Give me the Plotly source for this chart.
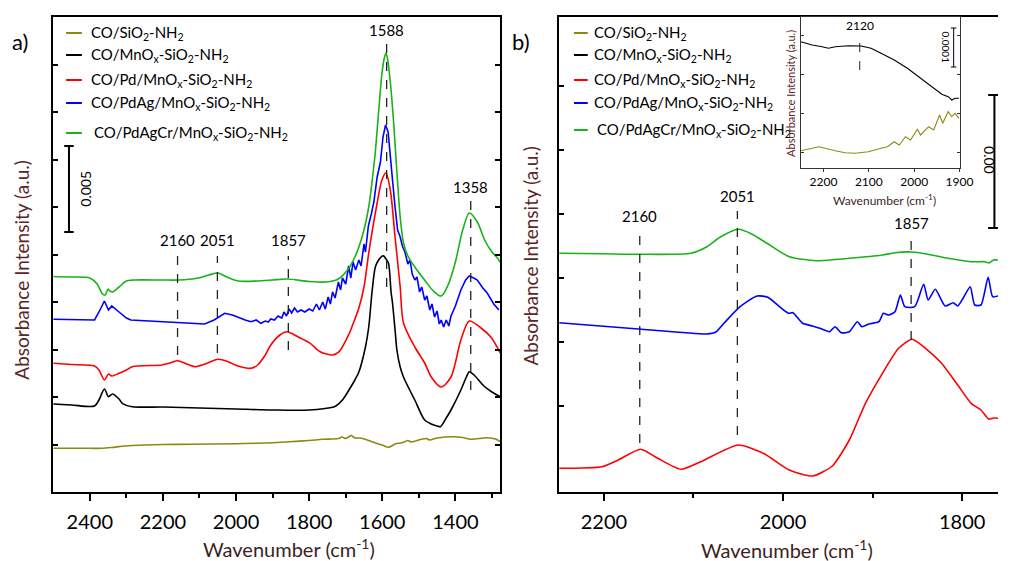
import plotly.graph_objects as go

W, H = 1012, 561
FONT = "Lato"

# ---------------- Panel a data (wavenumber, absorbance in a.u., stacked offsets) ----------------
a_olive_x = [2500, 2450, 2400, 2367, 2340, 2304, 2250, 2200, 2124, 2000, 1943, 1900, 1853, 1800, 1763,
             1720, 1710, 1700, 1691, 1685, 1675, 1660, 1628, 1600, 1583, 1565, 1550, 1540, 1530, 1520,
             1493, 1480, 1470, 1450, 1403, 1380, 1358, 1313, 1290, 1277]
a_olive_y = [43.7, 43.7, 43.7, 43.7, 44.5, 46, 47, 47.5, 47.7, 48.3, 48.7, 49.3, 50.3, 51.5, 52.7,
             53.5, 55, 53.5, 55.3, 56.5, 54, 54, 50.3, 47, 44.7, 48, 49, 50, 51.5, 50,
             52.7, 53.5, 52, 54, 55.3, 54.5, 52.7, 54.3, 53, 50.3]

a_black_x = [2500, 2450, 2387, 2375, 2360, 2349, 2338, 2320, 2311, 2284, 2200, 2100, 2000, 1900, 1800,
             1736, 1727, 1709, 1691, 1675, 1664, 1646, 1637, 1628, 1619, 1610, 1600, 1596, 1590, 1583,
             1576, 1572, 1565, 1560, 1551, 1542, 1525, 1511, 1484, 1466, 1450, 1441, 1425, 1412, 1385,
             1370, 1362, 1349, 1322, 1300, 1277]
a_black_y = [88, 87, 86, 92, 103, 95.3, 98, 93, 88.7, 85.3, 85, 84, 83, 82, 82,
             84.7, 86, 92, 102, 112, 120, 145, 165, 200, 225, 232, 236, 236, 233, 228.7,
             200, 189, 162, 142, 125, 115, 102, 92, 72, 68, 66, 65.3, 74, 82, 102,
             115, 120.3, 117, 106, 100, 95.3]

a_red_x = [2500, 2450, 2387, 2375, 2360, 2349, 2340, 2320, 2300, 2284, 2203, 2180, 2159, 2135, 2113,
           2085, 2049, 2020, 1995, 1959, 1941, 1920, 1905, 1880, 1860, 1830, 1797, 1770, 1736, 1718,
           1691, 1680, 1664, 1650, 1637, 1614, 1601, 1590, 1578, 1565, 1551, 1542, 1511, 1484, 1466,
           1439, 1412, 1385, 1362, 1330, 1303, 1277]
a_red_y = [128.7, 127.5, 126, 122, 112, 118, 116, 118.7, 122, 125.3, 127, 129, 131.3, 128, 125.3,
           128, 132.7, 130, 126, 123.7, 127, 137, 147, 157, 160.3, 155, 148.7, 140.3, 137, 140.3,
           158, 168, 184, 205, 239, 289, 312, 319.3, 302, 255, 205, 169, 145, 129, 115,
           105, 115, 152, 171, 164, 155, 139]

a_blue_x = [2500, 2450, 2400, 2387, 2375, 2360, 2349, 2340, 2320, 2300, 2288, 2200, 2158, 2086, 2060,
            2031, 2010, 1995, 1975, 1959, 1945, 1932, 1920, 1912, 1905, 1895, 1885, 1875, 1869, 1862,
            1855, 1848, 1840, 1832, 1822, 1812, 1800, 1790, 1780, 1772, 1763, 1756, 1748, 1742, 1736,
            1729, 1720, 1714, 1709, 1700, 1692, 1686, 1680, 1673, 1664, 1658, 1650, 1646, 1638, 1630,
            1623, 1614, 1605, 1598, 1591, 1584, 1578, 1574, 1565, 1558, 1551, 1545, 1538, 1530, 1524,
            1518, 1511, 1505, 1498, 1492, 1484, 1478, 1470, 1464, 1457, 1450, 1444, 1439, 1432, 1425,
            1418, 1412, 1400, 1385, 1372, 1362, 1350, 1340, 1325, 1313, 1295, 1281]
a_blue_y = [172.7, 172.5, 172, 172, 180, 191, 182, 186, 180, 174, 172, 170, 169.3, 168, 172,
            178.7, 177, 174.7, 172, 170.3, 172, 168.7, 171, 170, 173, 172, 176, 174, 180, 176,
            183, 179, 184, 180, 182, 180, 183, 181, 188, 182, 190, 183, 195, 188, 200,
            194, 210, 202, 214, 208, 226, 214, 230, 222, 232, 226, 248, 240, 266, 278,
            290, 315, 330, 355, 367, 360, 340, 320, 285, 262, 255, 246, 240, 228, 232,
            218, 212, 215, 200, 205, 192, 196, 182, 188, 175, 181, 168, 172, 165, 172,
            166, 176, 186, 202, 212, 216, 214, 212, 204, 199, 188, 182]

a_green_x = [2500, 2450, 2400, 2380, 2365, 2358, 2350, 2345, 2338, 2320, 2300, 2280, 2200, 2158, 2104,
             2075, 2049, 2025, 1995, 1941, 1900, 1860, 1800, 1754, 1720, 1691, 1675, 1664, 1650, 1637,
             1628, 1619, 1610, 1601, 1595, 1590, 1585, 1578, 1569, 1560, 1551, 1542, 1530, 1511, 1480,
             1460, 1439, 1420, 1400, 1380, 1362, 1340, 1320, 1300, 1285, 1278]
a_green_y = [215.5, 215, 214, 208, 198, 197, 203, 201, 200, 205, 211, 212, 212, 212, 214,
             217, 219, 215, 211, 211, 212, 213, 210.5, 210, 213, 224, 235, 245, 262, 285,
             310, 340, 380, 418, 433, 439, 432, 410, 370, 320, 275, 249, 236, 225, 210,
             201, 196, 207, 230, 262, 279, 270, 252, 240, 234, 230]

# ---------------- Panel b data ----------------
b_red_x = [2250, 2202, 2184, 2159, 2140, 2114, 2092, 2050, 2022, 1993, 1967, 1945, 1926, 1908, 1889,
           1871, 1856, 1841, 1823, 1805, 1790, 1779, 1770, 1765, 1760]
b_red_y = [23.7, 25.3, 32, 42.7, 33.7, 22.7, 30.3, 47, 38.7, 22, 16, 26, 52, 88.7, 118.7,
           143.7, 152.7, 143.7, 128.7, 107, 88.7, 82, 72.7, 74, 73.7]

b_blue_x = [2250, 2158, 2085, 2075, 2066, 2048, 2029, 2017, 2004, 1994, 1989, 1978, 1967, 1959, 1948,
            1942, 1935, 1926, 1917, 1912, 1904, 1893, 1888, 1882, 1875, 1869, 1864, 1853, 1843, 1838,
            1830, 1819, 1810, 1805, 1799, 1791, 1786, 1779, 1771, 1766, 1760]
b_blue_y = [169.3, 162.7, 158, 160, 168.7, 185.3, 196, 194.7, 185.3, 178.7, 179.3, 168.7, 166, 163.7, 160.3,
            165.3, 159.3, 160.3, 170.3, 165.3, 168, 170.3, 178.7, 177, 180.3, 197, 185.3, 185.3, 207.7, 192,
            202.7, 186, 189.3, 186, 193.7, 205.3, 187, 187, 214.7, 195.3, 196]

b_green_x = [2250, 2200, 2158, 2103, 2085, 2070, 2050, 2035, 2018, 1993, 1963, 1926, 1889, 1875, 1856,
             1834, 1816, 1790, 1775, 1770, 1765, 1760]
b_green_y = [238.7, 238.2, 237.7, 238.7, 245.3, 255, 262.7, 258, 248.7, 235.3, 231.3, 233.7, 237, 239.3, 240,
             237, 233.7, 230.3, 230.3, 229, 232, 232]

# ---------------- Inset data ----------------
i_black_x = [2250, 2225, 2203, 2189, 2174, 2145, 2117, 2095, 2073, 2044, 2015, 1986, 1957, 1939, 1925,
             1917, 1910, 1901]
i_black_y = [126.3, 123, 121.3, 119.7, 121.3, 122.3, 122, 119.7, 114.7, 108, 99.7, 89.7, 79.7, 73.7, 71.3,
             68, 69.7, 69.7]
i_olive_x = [2250, 2210, 2174, 2152, 2130, 2101, 2073, 2059, 2044, 2033, 2019, 2008, 1993, 1986, 1968,
             1957, 1944, 1937, 1925, 1917, 1910, 1901]
i_olive_y = [17.3, 21.3, 17.3, 15.3, 14.7, 16.3, 19.7, 21.3, 26.3, 23, 31.3, 28, 38.7, 33, 41.3,
             38, 53, 44.7, 56.3, 51.3, 54.7, 49.7]

# ---------------- labels / peaks ----------------
legend_names = ["CO/SiO<sub>2</sub>-NH<sub>2</sub>",
                "CO/MnO<sub>x</sub>-SiO<sub>2</sub>-NH<sub>2</sub>",
                "CO/Pd/MnO<sub>x</sub>-SiO<sub>2</sub>-NH<sub>2</sub>",
                "CO/PdAg/MnO<sub>x</sub>-SiO<sub>2</sub>-NH<sub>2</sub>",
                "CO/PdAgCr/MnO<sub>x</sub>-SiO<sub>2</sub>-NH<sub>2</sub>"]
colors = ["#8a8a12", "#000000", "#ff0000", "#0000ff", "#19b219"]

a_peaks = [1588, 2160, 2051, 1857, 1358]
a_peak_top = [454, 236, 236, 236, 295]
a_peak_bot = [205, 137, 139, 142, 102]
a_peak_lab = [462, 252, 252, 252, 305]

b_peaks = [2160, 2051, 1857]
b_peak_top = [262, 281, 257]
b_peak_bot = [49, 57, 152]
b_peak_lab = [276, 296, 269]

i_peaks = [2120]

TITLE_Y = "#5c2626"
TITLE_X = "#3d1f1f"

fig = go.Figure()

a_shapes = ["spline", "spline", "spline", "linear", "spline"]
for xs, ys, c, n, s in zip([a_olive_x, a_black_x, a_red_x, a_blue_x, a_green_x],
                           [a_olive_y, a_black_y, a_red_y, a_blue_y, a_green_y], colors, legend_names, a_shapes):
    fig.add_trace(go.Scatter(x=xs, y=ys, mode="lines", line=dict(color=c, width=1.6, shape=s, smoothing=0.8),
                             name=n, showlegend=False, xaxis="x", yaxis="y"))

for xs, ys, c, s in zip([b_red_x, b_blue_x, b_green_x], [b_red_y, b_blue_y, b_green_y], colors[2:],
                        ["spline", "spline", "spline"]):
    fig.add_trace(go.Scatter(x=xs, y=ys, mode="lines", line=dict(color=c, width=1.6, shape=s, smoothing=0.6),
                             showlegend=False, xaxis="x2", yaxis="y2"))

for xs, ys, c in zip([i_black_x, i_olive_x], [i_black_y, i_olive_y], [colors[1], colors[0]]):
    fig.add_trace(go.Scatter(x=xs, y=ys, mode="lines", line=dict(color=c, width=1.1),
                             showlegend=False, xaxis="x3", yaxis="y3"))

def px(v):
    return v / W

def py(v):
    return 1 - v / H

axis_common = dict(showline=True, linecolor="black", linewidth=1.6, showgrid=False, zeroline=False,
                   tickcolor="black", tickwidth=1.5, tickfont=dict(family=FONT, size=20, color="black"))

fig.update_layout(
    width=W, height=H, margin=dict(l=0, r=0, t=0, b=0),
    paper_bgcolor="white", plot_bgcolor="rgba(0,0,0,0)",
    xaxis=dict(domain=[px(54), px(507)], range=[2500, 1278], anchor="y", mirror=True,
               ticks="outside", ticklen=7, tickvals=[2400, 2200, 2000, 1800, 1600, 1400],
               ticklabelstandoff=4,
               minor=dict(tickvals=[2300, 2100, 1900, 1700, 1500, 1300], ticks="outside", ticklen=4,
                          tickcolor="black", tickwidth=1.5), **axis_common),
    yaxis=dict(domain=[py(492), py(17)], range=[0, 475], anchor="x", mirror="ticks",
               ticks="inside", ticklen=5, tick0=0, dtick=47.5, showticklabels=False, **axis_common),
    xaxis2=dict(domain=[px(567), 1.0], range=[2250, 1760], anchor="y2", mirror=True,
                ticks="outside", ticklen=7, tickvals=[2200, 2000, 1800], ticklabelstandoff=4,
                minor=dict(tickvals=[2100, 1900], ticks="outside", ticklen=4,
                           tickcolor="black", tickwidth=1.5), **axis_common),
    yaxis2=dict(domain=[py(492), py(17)], range=[0, 475], anchor="x2", mirror=False,
                ticks="inside", ticklen=5, tickvals=[86, 150, 214, 278, 342, 406],
                showticklabels=False, **axis_common),
    xaxis3=dict(domain=[px(812), px(973)], range=[2250, 1900], anchor="y3", mirror=True,
                ticks="outside", ticklen=3, tickvals=[2200, 2100, 2000, 1900],
                showline=True, linecolor="#333", linewidth=1, showgrid=False, zeroline=False,
                tickcolor="#333", tickfont=dict(family=FONT, size=12, color="black")),
    yaxis3=dict(domain=[py(168), py(17)], range=[0, 151], anchor="x3", mirror="ticks",
                ticks="inside", ticklen=3, tick0=16, dtick=39, showticklabels=False,
                showline=True, linecolor="#333", linewidth=1, showgrid=False, zeroline=False,
                tickcolor="#333"),
)

shapes = []
ann = []

def note(x, y, text, size, color="black", angle=0, xref="paper", yref="paper", xanchor="center"):
    return dict(xref=xref, yref=yref, x=x, y=y, text=text, textangle=angle, showarrow=False,
                xanchor=xanchor, yanchor="middle", font=dict(family=FONT, size=size, color=color))

# legends (both panels)
leg_a_y = [33, 55, 80, 103, 133]
leg_b_y = [33, 55, 80, 103, 130]
for i, (n, c) in enumerate(zip(legend_names, colors)):
    for x0, x1, tx, ys in [(67, 83, 90, leg_a_y), (582, 596, 600, leg_b_y)]:
        shapes.append(dict(type="line", xref="paper", yref="paper", x0=px(x0), x1=px(x1),
                           y0=py(ys[i]), y1=py(ys[i]), line=dict(color=c, width=2)))
        ann.append(note(px(tx + (3 if i == 4 else 0)), py(ys[i]), n, 15, xanchor="left"))

# dashed peak markers
dash = dict(color="#222", width=1.3, dash="dash")
for p, t, b, l in zip(a_peaks, a_peak_top, a_peak_bot, a_peak_lab):
    shapes.append(dict(type="line", xref="x", yref="y", x0=p, x1=p, y0=b, y1=t, line=dash))
    ann.append(note(p, l, str(p), 15, xref="x", yref="y"))
for p, t, b, l in zip(b_peaks, b_peak_top, b_peak_bot, b_peak_lab):
    shapes.append(dict(type="line", xref="x2", yref="y2", x0=p, x1=p, y0=b, y1=t, line=dash))
    ann.append(note(p, l, str(p), 15, xref="x2", yref="y2"))
for p in i_peaks:
    shapes.append(dict(type="line", xref="x3", yref="y3", x0=p, x1=p, y0=98, y1=133,
                       line=dict(color="#222", width=1, dash="dash")))
    ann.append(note(p, 142, str(p), 12, xref="x3", yref="y3"))

# scale bars
def scalebar(xr, yr, xc, half, y0, y1, w):
    out = [dict(type="line", xref=xr, yref=yr, x0=xc, x1=xc, y0=y0, y1=y1, line=dict(color="black", width=w))]
    for yy in (y0, y1):
        out.append(dict(type="line", xref=xr, yref=yr, x0=xc - half, x1=xc + half, y0=yy, y1=yy,
                        line=dict(color="black", width=w)))
    return out

shapes += scalebar("x", "y", 2457, 13, 260, 346, 2)
ann.append(note(2414, 303, "0.005", 14, angle=-90, xref="x", yref="y"))
shapes += scalebar("x2", "y2", 1764, 7, 264, 397, 2)
ann.append(note(1769, 332, "0.00", 14, angle=90, xref="x2", yref="y2"))
shapes += scalebar("x3", "y3", 1913, 6, 101, 140, 1)
ann.append(note(1929, 120, "0.0001", 10, angle=90, xref="x3", yref="y3"))

# axis titles and panel letters
ann += [
    note(px(22), py(270), "Absorbance Intensity (a.u.)", 19, TITLE_Y, -90),
    note(px(538), py(256), "Absorbance Intensity (a.u.)", 19, TITLE_Y, -90),
    note(px(293), py(548), "Wavenumber (cm<sup>-1</sup>)", 20, TITLE_X),
    note(px(798), py(549), "Wavenumber (cm<sup>-1</sup>)", 20, TITLE_X),
    note(px(801), py(93), "Absorbance Intensity (a.u.)", 11, TITLE_Y, -90),
    note(px(897), py(200), "Wavenumber (cm<sup>-1</sup>)", 12, TITLE_X),
    note(px(20), py(42), "a)", 22),
    note(px(528), py(42), "b)", 22),
]

fig.update_layout(shapes=shapes, annotations=ann)
fig.write_html("out.html")
